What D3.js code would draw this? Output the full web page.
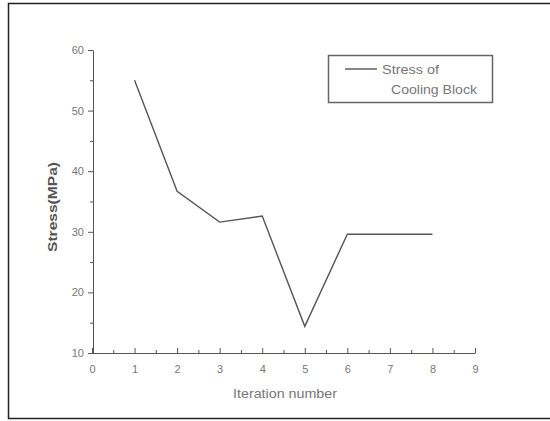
<!doctype html>
<html>
<head>
<style>
  body { margin: 0; background: #fff; }
  svg { display: block; font-family: Arial, "Liberation Sans", sans-serif; }
  .tick text { fill: #777; font-size: 11px; }
  .domain, .tick line { stroke: #555; }
</style>
<script src="https://d3js.org/d3.v7.min.js"></script>
</head>
<body>
<svg width="550" height="421"></svg>
<script>
// iteration vs stress values
var iterations = [1, 2, 3, 4, 5, 6, 7, 8];
var stress = [55.0, 36.7, 31.6, 32.6, 14.4, 29.6, 29.6, 29.6];
var xTicks = [0, 1, 2, 3, 4, 5, 6, 7, 8, 9];
var yTicks = [10, 20, 30, 40, 50, 60];
var legendLines = ["Stress of", "Cooling Block"];

var svg = d3.select("svg");

// outer frame (open at the right like the scan)
svg.append("path")
  .attr("d", "M551,3.5 H8.5 V418.5 H551")
  .attr("fill", "none")
  .attr("stroke", "#222")
  .attr("stroke-width", 1.5);

var x = d3.scaleLinear().domain([0, 9]).range([92, 475]);
var y = d3.scaleLinear().domain([10, 60]).range([353, 50]);

// minor ticks
svg.append("g")
  .attr("transform", "translate(0,353)")
  .call(d3.axisTop(x).tickValues(d3.range(0.5, 9, 1)).tickSize(3).tickFormat(""))
  .call(g => g.select(".domain").remove());
svg.append("g")
  .attr("transform", "translate(93,0)")
  .call(d3.axisLeft(y).tickValues(d3.range(15, 60, 10)).tickSize(3).tickFormat(""))
  .call(g => g.select(".domain").remove());

// x axis: ticks up, labels below
var xAxis = svg.append("g")
  .attr("transform", "translate(0,353)")
  .call(d3.axisTop(x).tickValues(xTicks).tickSizeInner(5).tickSizeOuter(0).tickFormat(d3.format("d")));
xAxis.selectAll(".tick text").attr("y", 20).attr("dy", "0");

var yAxis = svg.append("g")
  .attr("transform", "translate(93,0)")
  .call(d3.axisLeft(y).tickValues(yTicks).tickSizeInner(5).tickSizeOuter(0).tickPadding(4));

svg.append("text")
  .attr("x", 233).attr("y", 398)
  .attr("textLength", 104)
  .attr("lengthAdjust", "spacingAndGlyphs")
  .attr("fill", "#777")
  .style("font-size", "13px")
  .text("Iteration number");

svg.append("text")
  .attr("transform", "translate(57,252) rotate(-90)")
  .attr("textLength", 90)
  .attr("lengthAdjust", "spacingAndGlyphs")
  .attr("fill", "#555")
  .style("font-size", "12px")
  .style("font-weight", "bold")
  .text("Stress(MPa)");

var line = d3.line()
  .x(function(d, i) { return x(iterations[i]); })
  .y(function(d) { return y(d); });

svg.append("path")
  .datum(stress)
  .attr("d", line)
  .attr("fill", "none")
  .attr("stroke", "#555")
  .attr("stroke-width", 1.4);

// legend
var lg = svg.append("g");
lg.append("rect")
  .attr("x", 328.5).attr("y", 55.5)
  .attr("width", 164).attr("height", 47)
  .attr("fill", "#fff")
  .attr("stroke", "#666")
  .attr("stroke-width", 1.5);
lg.append("line")
  .attr("x1", 345).attr("x2", 377)
  .attr("y1", 69).attr("y2", 69)
  .attr("stroke", "#555").attr("stroke-width", 1.4);
lg.selectAll("text.leg")
  .data(legendLines)
  .enter().append("text")
  .attr("class", "leg")
  .attr("x", function(d, i) { return i == 0 ? 382 : 391; })
  .attr("y", function(d, i) { return 74 + i * 20; })
  .attr("textLength", function(d, i) { return i == 0 ? 57 : 86; })
  .attr("lengthAdjust", "spacingAndGlyphs")
  .attr("fill", "#777")
  .style("font-size", "12.5px")
  .text(function(d) { return d; });
</script>
</body>
</html>
